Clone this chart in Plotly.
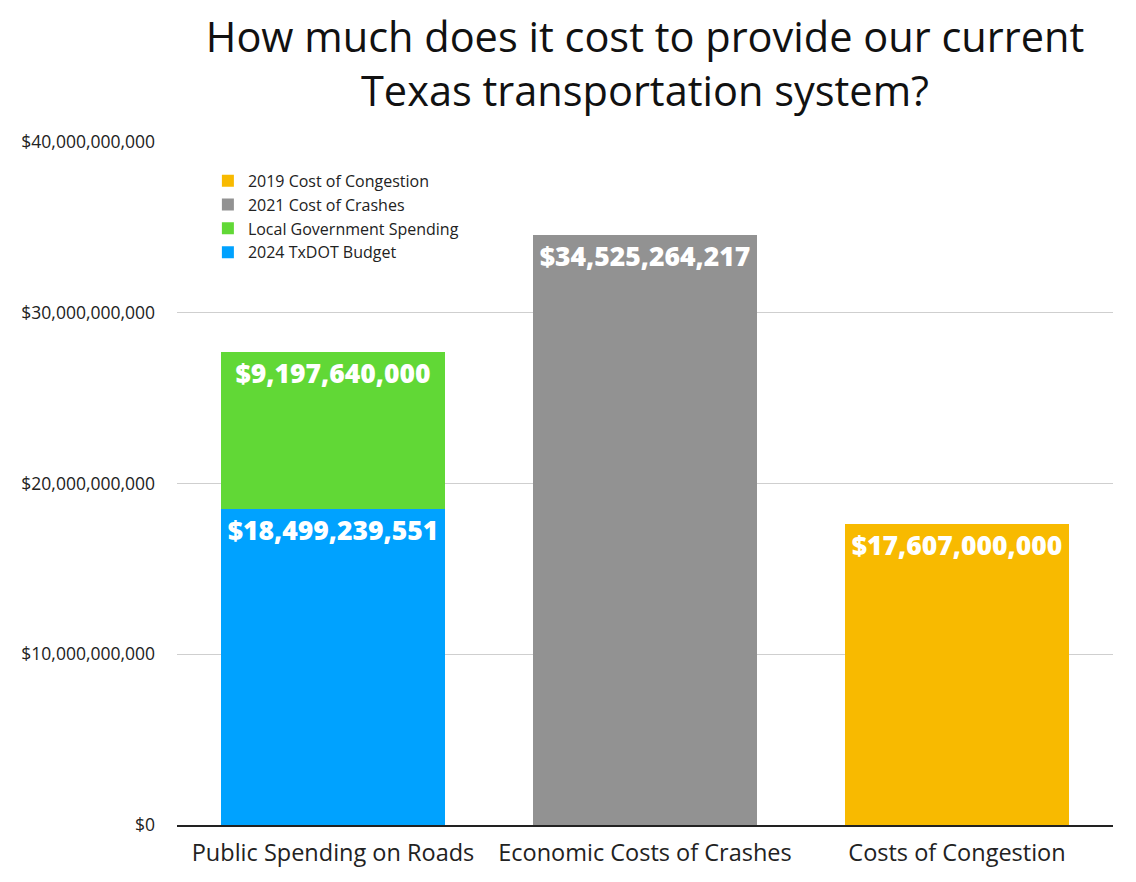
import plotly.graph_objects as go

categories = ["Public Spending on Roads", "Economic Costs of Crashes", "Costs of Congestion"]

txdot_budget = [18499239551, None, None]
local_spending = [9197640000, None, None]
crash_costs = [None, 34525264217, None]
congestion_costs = [None, None, 17607000000]

series = [
    ("2024 TxDOT Budget", txdot_budget, "#00A2FF"),
    ("Local Government Spending", local_spending, "#61D836"),
    ("2021 Cost of Crashes", crash_costs, "#929292"),
    ("2019 Cost of Congestion", congestion_costs, "#F8BA00"),
]

y_ticks = [0, 10e9, 20e9, 30e9, 40e9]
y_tick_labels = ["$0", "$10,000,000,000", "$20,000,000,000", "$30,000,000,000", "$40,000,000,000"]

FONT = "Open Sans"

fig = go.Figure()
for name, values, color in series:
    fig.add_trace(go.Bar(
        x=categories, y=values, name=name,
        marker=dict(color=color, line=dict(width=0)),
        text=[("${:,}".format(v) if v is not None else "") for v in values],
        textposition="inside", insidetextanchor="end",
        textfont=dict(family=FONT, size=26.5, color="white", weight=800),
        textangle=0, constraintext="none",
        hoverinfo="skip",
    ))

# the page adds an 8px body margin, so margins are shifted by 8px
fig.update_layout(
    width=1136, height=882,
    barmode="stack", bargap=0.285,
    plot_bgcolor="white", paper_bgcolor="white",
    margin=dict(l=169, r=31, t=134, b=65),
    font=dict(family=FONT, color="#111111"),
    title=dict(
        text="How much does it cost to provide our current<br>Texas transportation system?",
        xref="paper", x=0.5, xanchor="center", y=0.95, yanchor="middle",
        font=dict(family=FONT, size=41.5, color="#111111"),
    ),
    legend=dict(
        x=0.033, y=0.968, xanchor="left", yanchor="top",
        traceorder="reversed", bgcolor="rgba(0,0,0,0)",
        font=dict(size=16, color="#222222"),
        itemwidth=30, tracegroupgap=0,
    ),
    showlegend=True,
)
fig.update_yaxes(
    range=[0, 40e9], tickvals=y_ticks, ticktext=y_tick_labels,
    showgrid=True, gridcolor="#CFCFCF", gridwidth=1,
    zeroline=False, showline=False,
    tickfont=dict(size=17.5, color="#222222"), ticklabelstandoff=21,
)
fig.update_xaxes(
    showline=True, linecolor="#222222", linewidth=2,
    tickfont=dict(size=23.5, color="#222222"), ticklabelstandoff=6,
)

fig.write_html("out.html")
